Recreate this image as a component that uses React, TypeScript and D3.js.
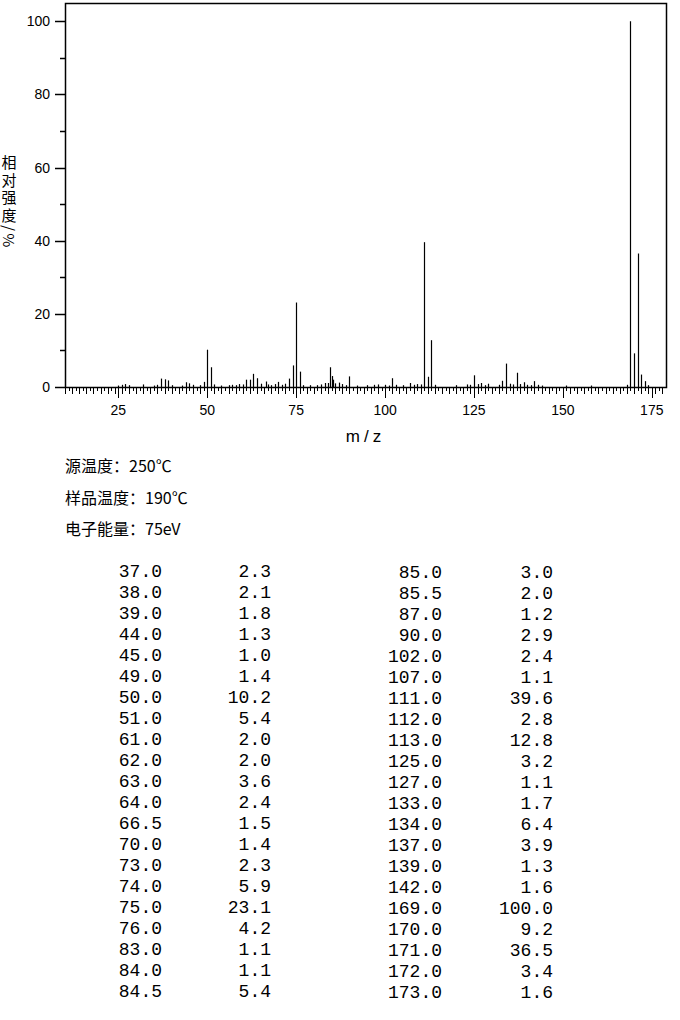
import React from "react";
import * as d3 from "d3";

// Listed peaks (m/z, relative intensity %)
const tableMz: number[] = [37.0, 38.0, 39.0, 44.0, 45.0, 49.0, 50.0, 51.0, 61.0, 62.0, 63.0, 64.0, 66.5, 70.0, 73.0, 74.0, 75.0, 76.0, 83.0, 84.0, 84.5,
  85.0, 85.5, 87.0, 90.0, 102.0, 107.0, 111.0, 112.0, 113.0, 125.0, 127.0, 133.0, 134.0, 137.0, 139.0, 142.0, 169.0, 170.0, 171.0, 172.0, 173.0];
const tableInt: number[] = [2.3, 2.1, 1.8, 1.3, 1.0, 1.4, 10.2, 5.4, 2.0, 2.0, 3.6, 2.4, 1.5, 1.4, 2.3, 5.9, 23.1, 4.2, 1.1, 1.1, 5.4,
  3.0, 2.0, 1.2, 2.9, 2.4, 1.1, 39.6, 2.8, 12.8, 3.2, 1.1, 1.7, 6.4, 3.9, 1.3, 1.6, 100.0, 9.2, 36.5, 3.4, 1.6];

// Small unlisted peaks (<1%)
const minorMz: number[] = [25, 26, 27, 28, 32, 35, 36, 40, 43, 46, 48, 52, 54, 56, 57, 58, 59, 60, 65, 67, 68, 69, 71, 72, 77, 79, 81, 82, 86, 88, 89, 92, 95, 97, 98, 100, 101, 103, 105, 108, 109, 110, 114, 120, 123, 124, 126, 128, 129, 132, 135, 136, 138, 140, 141, 143, 144, 151, 158, 168, 174];
const minorInt: number[] = [0.4, 0.6, 0.8, 0.5, 0.7, 0.4, 0.6, 0.5, 0.4, 0.6, 0.5, 0.7, 0.4, 0.5, 0.6, 0.5, 0.8, 0.7, 0.9, 0.7, 0.5, 0.8, 0.6, 0.9, 0.5, 0.5, 0.5, 0.7, 1.0, 0.8, 0.5, 0.4, 0.5, 0.6, 0.7, 0.6, 0.4, 0.6, 0.5, 0.6, 0.8, 0.7, 0.6, 0.5, 0.7, 0.6, 0.8, 0.5, 0.9, 0.6, 0.9, 0.7, 0.8, 0.6, 0.5, 0.6, 0.4, 0.4, 0.4, 0.6, 0.5];

const yTickLabels: number[] = [0, 20, 40, 60, 80, 100];
const xTickLabels: number[] = [25, 50, 75, 100, 125, 150, 175];
const metaLines: string[] = ["源温度：250℃", "样品温度：190℃", "电子能量：75eV"];
const yLabel = "相对强度/%";

export default function App() {
  const left = 65, right = 666, top = 3, bottom = 387;
  const x = d3.scaleLinear().domain([10, 179]).range([left, right]);
  const y = d3.scaleLinear().domain([0, 105]).range([bottom, top]);

  const intTicks = d3.range(10, 179);
  const minorY = d3.range(10, 101, 20);

  const allMz = [...minorMz, ...tableMz];
  const allInt = [...minorInt, ...tableInt];

  const half = 21;
  const leftRows = tableMz.slice(0, half).map((m, i) => [m, tableInt[i]]);
  const rightRows = tableMz.slice(half).map((m, i) => [m, tableInt[i + half]]);

  const mono = "'Liberation Mono', 'Courier New', monospace";
  const sans = "'Liberation Sans', Arial, sans-serif";
  const cjk = "'Noto Sans CJK SC', sans-serif";

  return (
    <svg width={680} height={1020} style={{ position: "absolute", left: 0, top: 0, background: "#fff" }}>
      <rect x={0} y={0} width={680} height={1020} fill="#fff" />
      {/* frame */}
      <rect x={left + 0.5} y={top + 0.5} width={right - left} height={bottom - top} fill="none" stroke="#000" strokeWidth={1.5} />
      {/* peaks */}
      {allMz.map((m, i) => (
        <line key={"p" + i} x1={Math.round(x(m)) + 0.5} x2={Math.round(x(m)) + 0.5} y1={y(0)} y2={y(allInt[i])} stroke="#000" strokeWidth={1.2} />
      ))}
      {/* x ticks */}
      {intTicks.map((t) => {
        const len = t % 25 === 0 ? 11 : t % 2 === 0 ? 7 : 4;
        return <line key={"xt" + t} x1={Math.round(x(t)) + 0.5} x2={Math.round(x(t)) + 0.5} y1={bottom} y2={bottom + len} stroke="#000" strokeWidth={1} />;
      })}
      {xTickLabels.map((t) => (
        <text key={"xl" + t} x={x(t)} y={415} textAnchor="middle" fontFamily={sans} fontSize={14} fill="#000">{t}</text>
      ))}
      <text x={(left + right) / 2} y={442} textAnchor="middle" fontFamily={sans} fontSize={17} letterSpacing={4} fill="#000">m/z</text>
      {/* y ticks */}
      {yTickLabels.map((t) => (
        <g key={"yt" + t}>
          <line x1={55} x2={left} y1={Math.round(y(t)) + 0.5} y2={Math.round(y(t)) + 0.5} stroke="#000" strokeWidth={1.5} />
          <text x={50} y={y(t)} dy="0.36em" textAnchor="end" fontFamily={sans} fontSize={14} fill="#000">{t}</text>
        </g>
      ))}
      {minorY.map((t) => (
        <line key={"ym" + t} x1={60} x2={left} y1={Math.round(y(t)) + 0.5} y2={Math.round(y(t)) + 0.5} stroke="#000" strokeWidth={1.5} />
      ))}
      {/* y label (vertical writing) */}
      <text x={9} y={155} fontFamily={cjk} fontSize={15} letterSpacing={2.5} fill="#000" style={{ writingMode: "vertical-rl" }}>{yLabel}</text>
      {/* meta */}
      {metaLines.map((s, i) => (
        <text key={"m" + i} x={65} y={472 + i * 31.5} fontFamily={cjk} fontSize={16} fill="#000">{s}</text>
      ))}
      {/* table */}
      {leftRows.map((r, i) => (
        <g key={"l" + i}>
          <text x={162} y={577 + i * 21} textAnchor="end" fontFamily={mono} fontSize={18} fill="#000">{r[0].toFixed(1)}</text>
          <text x={271} y={577 + i * 21} textAnchor="end" fontFamily={mono} fontSize={18} fill="#000">{r[1].toFixed(1)}</text>
        </g>
      ))}
      {rightRows.map((r, i) => (
        <g key={"r" + i}>
          <text x={442} y={578 + i * 21} textAnchor="end" fontFamily={mono} fontSize={18} fill="#000">{r[0].toFixed(1)}</text>
          <text x={553} y={578 + i * 21} textAnchor="end" fontFamily={mono} fontSize={18} fill="#000">{r[1].toFixed(1)}</text>
        </g>
      ))}
    </svg>
  );
}
